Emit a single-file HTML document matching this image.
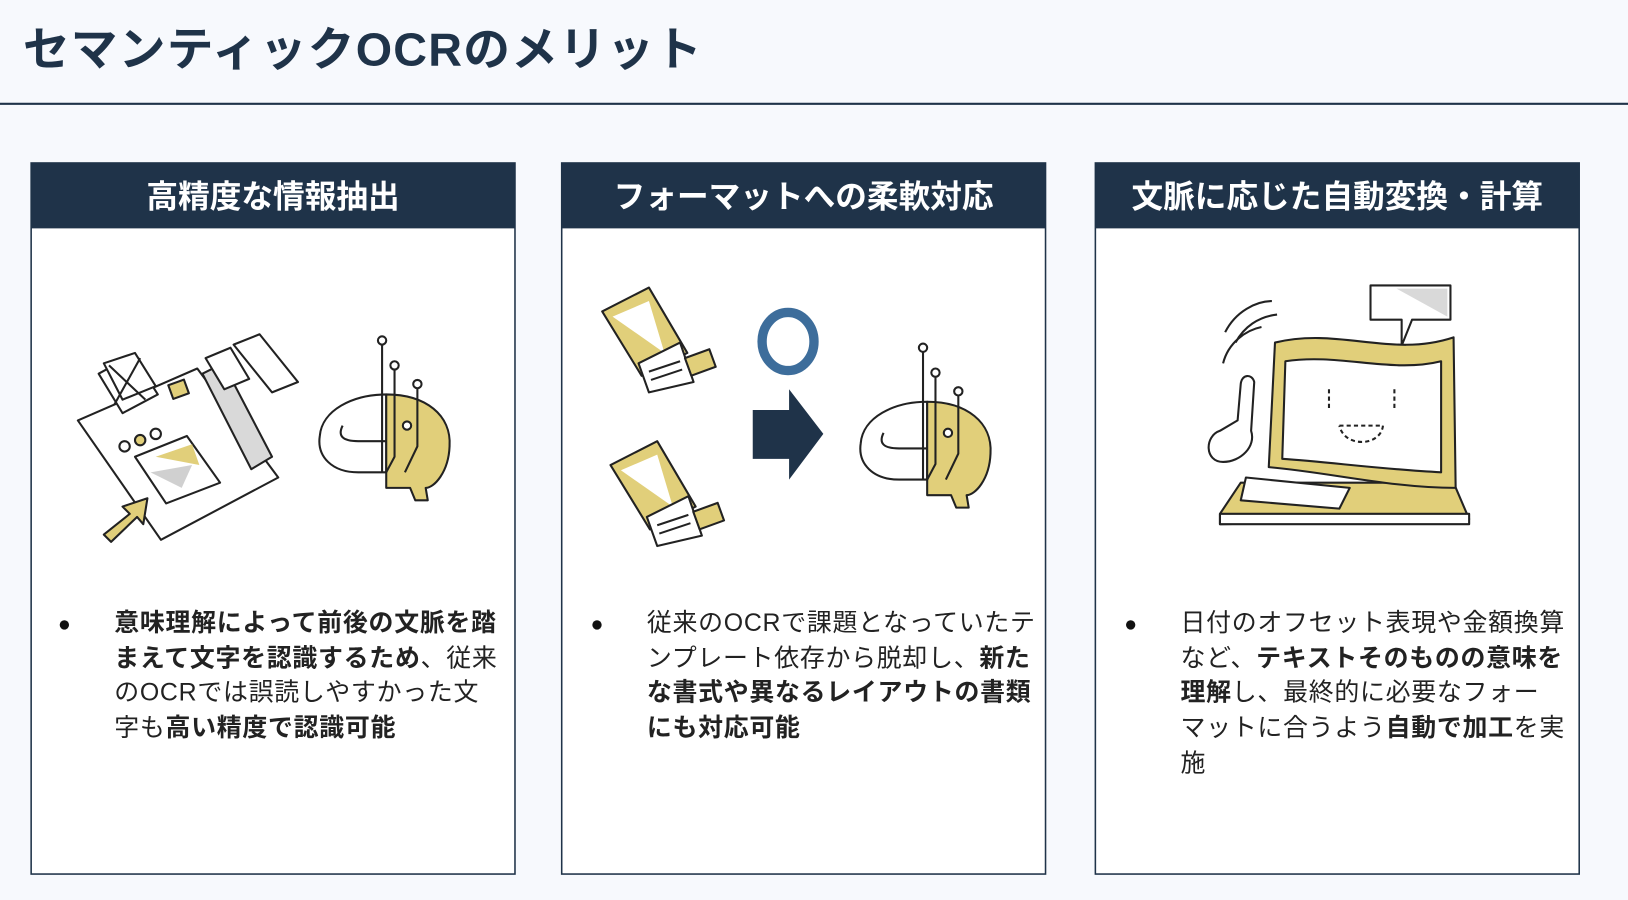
<!DOCTYPE html>
<html><head><meta charset="utf-8"><style>
html,body{margin:0;padding:0;background:#f7f9fd;}
svg{display:block;}
text{font-family:"Liberation Sans","Noto Sans CJK JP",sans-serif;}
</style></head><body>
<svg width="1628" height="900" viewBox="0 0 1568 867" preserveAspectRatio="none" xmlns="http://www.w3.org/2000/svg">
<rect x="0" y="0" width="1568" height="867" fill="#f7f9fd"/>
<text x="22" y="63" font-size="45" font-weight="700" fill="#1f3349" letter-spacing="1.2">セマンティックOCRのメリット</text>
<line x1="0" y1="100" x2="1568" y2="100" stroke="#1f3349" stroke-width="2"/>

<g stroke="#1f3349" stroke-width="1.5">
<rect x="30" y="157" width="466" height="685" fill="#fff"/>
<rect x="541" y="157" width="466" height="685" fill="#fff"/>
<rect x="1055" y="157" width="466" height="685" fill="#fff"/>
</g>
<rect x="30" y="157" width="466" height="63" fill="#1f3349"/>
<rect x="541" y="157" width="466" height="63" fill="#1f3349"/>
<rect x="1055" y="157" width="466" height="63" fill="#1f3349"/>
<g font-size="30.5" font-weight="700" fill="#fff" text-anchor="middle">
<text x="263" y="200">高精度な情報抽出</text>
<text x="774" y="200">フォーマットへの柔軟対応</text>
<text x="1288" y="200">文脈に応じた自動変換・計算</text>
</g>

<g font-size="24" fill="#222" letter-spacing="0.7">
<circle cx="62" cy="602" r="4.5" fill="#111"/>
<text x="110" y="608" font-weight="700">意味理解によって前後の文脈を踏</text>
<text x="110" y="642"><tspan font-weight="700">まえて文字を認識するため</tspan>、従来</text>
<text x="110" y="675">のOCRでは誤読しやすかった文</text>
<text x="110" y="709">字も<tspan font-weight="700">高い精度で認識可能</tspan></text>

<circle cx="575" cy="602" r="4.5" fill="#111"/>
<text x="623" y="608">従来のOCRで課題となっていたテ</text>
<text x="623" y="642">ンプレート依存から脱却し、<tspan font-weight="700">新た</tspan></text>
<text x="623" y="675" font-weight="700">な書式や異なるレイアウトの書類</text>
<text x="623" y="709" font-weight="700">にも対応可能</text>

<circle cx="1089" cy="602" r="4.5" fill="#111"/>
<text x="1137" y="608">日付のオフセット表現や金額換算</text>
<text x="1137" y="642">など、<tspan font-weight="700">テキストそのものの意味を</tspan></text>
<text x="1137" y="675"><tspan font-weight="700">理解</tspan>し、最終的に必要なフォー</text>
<text x="1137" y="709">マットに合うよう<tspan font-weight="700">自動で加工</tspan>を実</text>
<text x="1137" y="743">施</text>
</g>

<g stroke="#222" stroke-width="2" fill="#fff" stroke-linejoin="round">
<polygon points="75,405 190,355 268,460 155,520"/>
<polygon points="195,360 215,350 262,440 242,452" fill="#d9d9d9"/>
<polygon points="198,345 222,335 240,365 216,375"/>
<polygon points="225,332 250,322 287,368 262,378"/>
<polygon points="95,360 128,342 152,380 118,398"/>
<polygon points="100,350 130,340 150,372 118,385"/>
<line x1="105" y1="352" x2="140" y2="385"/><line x1="135" y1="345" x2="110" y2="390"/>
<rect x="164" y="368" width="16" height="14" fill="#e1cf7a" transform="rotate(-20 172 375)"/>
<polygon points="130,440 180,420 212,465 160,485" fill="#fff"/>
<polygon points="150,440 185,428 192,448" fill="#e1cf7a" stroke="none"/>
<polygon points="145,455 185,448 175,470" fill="#d0d0d0" stroke="none"/>
<circle cx="120" cy="430" r="5"/><circle cx="135" cy="424" r="5" fill="#e1cf7a"/><circle cx="150" cy="418" r="5"/>
<polygon points="100,515 125,495 118,488 142,480 138,505 132,498 107,522" fill="#e1cf7a"/>
<path d="M372,380 C340,380 310,395 308,420 C305,440 320,455 345,455 L372,455 Z"/>
<path d="M372,380 C410,380 435,400 433,430 C432,455 418,470 410,470 L412,482 L400,482 L395,470 L372,470 Z" fill="#e1cf7a"/>
<path d="M330,410 C325,420 330,425 345,425 L372,425" fill="none"/>
<line x1="368" y1="330" x2="368" y2="455"/><circle cx="368" cy="328" r="4"/>
<path d="M380,355 L380,440 L372,455" fill="none"/><circle cx="380" cy="352" r="4"/>
<path d="M402,373 L402,430 L390,455" fill="none"/><circle cx="402" cy="370" r="4"/>
<circle cx="392" cy="410" r="4"/>
</g>

<g stroke="#222" stroke-width="2" fill="#fff" stroke-linejoin="round">
<g>
<polygon points="580,300 625,277 662,340 618,362" fill="#e1cf7a"/>
<polygon points="590,305 625,290 640,340" fill="#fff" stroke="none"/>
<polygon points="615,350 655,330 668,368 625,378"/>
<line x1="625" y1="358" x2="655" y2="348"/><line x1="627" y1="366" x2="657" y2="356"/>
<rect x="662" y="340" width="25" height="18" fill="#e1cf7a" transform="rotate(-20 675 349)"/>
</g>
<g transform="translate(8,148)">
<polygon points="580,300 625,277 662,340 618,362" fill="#e1cf7a"/>
<polygon points="590,305 625,290 640,340" fill="#fff" stroke="none"/>
<polygon points="615,350 655,330 668,368 625,378"/>
<line x1="625" y1="358" x2="655" y2="348"/><line x1="627" y1="366" x2="657" y2="356"/>
<rect x="662" y="340" width="25" height="18" fill="#e1cf7a" transform="rotate(-20 675 349)"/>
</g>
</g>
<ellipse cx="759" cy="329" rx="25" ry="28" fill="none" stroke="#3d6d9b" stroke-width="9"/>
<polygon points="725,395 760,395 760,375 793,418 760,462 760,442 725,442" fill="#1f3349"/>
<g stroke="#222" stroke-width="2" fill="#fff" stroke-linejoin="round" transform="translate(521,7)">
<path d="M372,380 C340,380 310,395 308,420 C305,440 320,455 345,455 L372,455 Z"/>
<path d="M372,380 C410,380 435,400 433,430 C432,455 418,470 410,470 L412,482 L400,482 L395,470 L372,470 Z" fill="#e1cf7a"/>
<path d="M330,410 C325,420 330,425 345,425 L372,425" fill="none"/>
<line x1="368" y1="330" x2="368" y2="455"/><circle cx="368" cy="328" r="4"/>
<path d="M380,355 L380,440 L372,455" fill="none"/><circle cx="380" cy="352" r="4"/>
<path d="M402,373 L402,430 L390,455" fill="none"/><circle cx="402" cy="370" r="4"/>
<circle cx="392" cy="410" r="4"/>
</g>

<g stroke="#222" stroke-width="2" fill="#fff" stroke-linejoin="round">
<path d="M1180,320 C1190,300 1210,290 1225,290" fill="none"/>
<path d="M1190,330 C1198,315 1212,305 1230,303" fill="none"/>
<path d="M1178,350 C1183,330 1200,318 1215,315" fill="none"/>
<polygon points="1320,275 1397,275 1397,308 1360,308 1350,333 1350,308 1320,308"/>
<polygon points="1345,278 1394,278 1394,305" fill="#d9d9d9" stroke="none"/>
<polygon points="1175,495 1195,465 1400,465 1415,500 1175,505" fill="#e1cf7a"/>
<rect x="1175" y="495" width="240" height="10" fill="#fff"/>
<path d="M1228,330 C1290,315 1340,345 1400,325 L1402,470 C1340,470 1280,455 1222,450 Z" fill="#e1cf7a"/>
<path d="M1238,348 C1290,340 1340,360 1388,348 L1388,455 C1330,452 1280,445 1235,442 Z" fill="#fff"/>
<line x1="1280" y1="375" x2="1280" y2="395" stroke-dasharray="4,3"/>
<line x1="1343" y1="375" x2="1343" y2="395" stroke-dasharray="4,3"/>
<path d="M1290,410 L1332,410 C1330,430 1295,432 1290,410" fill="none" stroke-dasharray="4,3"/>
<path d="M1200,460 L1300,470 L1290,490 L1195,482 Z" fill="#fff"/>
<path d="M1175,415 C1160,420 1160,445 1178,445 C1195,445 1210,430 1205,415 L1208,368 C1206,360 1196,360 1195,370 L1192,405 Z"/>
</g>
</svg>
</body></html>
